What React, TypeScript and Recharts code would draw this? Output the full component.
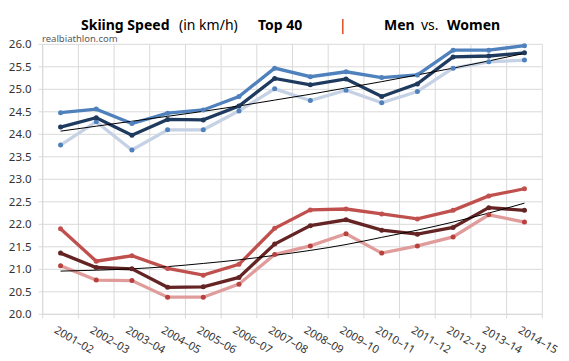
import React from 'react';
import { LineChart, Line, XAxis, YAxis, CartesianGrid, ReferenceLine } from 'recharts';

const seasons = ['2001–02', '2002–03', '2003–04', '2004–05', '2005–06', '2006–07', '2007–08', '2008–09', '2009–10', '2010–11', '2011–12', '2012–13', '2013–14', '2014–15'];

const menTop = [24.48, 24.56, 24.24, 24.47, 24.54, 24.84, 25.47, 25.28, 25.39, 25.26, 25.32, 25.87, 25.87, 25.97];
const menAvg = [24.16, 24.37, 23.98, 24.33, 24.32, 24.63, 25.24, 25.10, 25.23, 24.84, 25.12, 25.72, 25.74, 25.81];
const menLow = [23.76, 24.28, 23.65, 24.10, 24.10, 24.52, 25.01, 24.75, 24.98, 24.70, 24.95, 25.47, 25.61, 25.65];
const menTrend = [24.07, 24.18, 24.29, 24.40, 24.51, 24.63, 24.76, 24.89, 25.03, 25.17, 25.32, 25.47, 25.63, 25.80];

const womenTop = [21.90, 21.18, 21.30, 21.02, 20.87, 21.11, 21.91, 22.32, 22.34, 22.23, 22.12, 22.31, 22.63, 22.79];
const womenAvg = [21.36, 21.04, 21.01, 20.60, 20.61, 20.82, 21.56, 21.97, 22.10, 21.87, 21.78, 21.93, 22.37, 22.31];
const womenLow = [21.08, 20.76, 20.75, 20.38, 20.38, 20.67, 21.33, 21.52, 21.79, 21.36, 21.52, 21.72, 22.21, 22.05];
const womenTrend = [20.96, 20.98, 21.01, 21.06, 21.13, 21.21, 21.31, 21.42, 21.55, 21.71, 21.87, 22.05, 22.25, 22.47];

const yTicks = [20, 20.5, 21, 21.5, 22, 22.5, 23, 23.5, 24, 24.5, 25, 25.5, 26];

const data = seasons.map((s, i) => ({
  idx: i,
  season: s,
  menTop: menTop[i],
  menAvg: menAvg[i],
  menLow: menLow[i],
  menTrend: menTrend[i],
  womenTop: womenTop[i],
  womenAvg: womenAvg[i],
  womenLow: womenLow[i],
  womenTrend: womenTrend[i],
}));

const boundaries = [-0.5, ...seasons.map((_, i) => i + 0.5)];
const xTicks = [...boundaries, ...seasons.map((_, i) => i)].sort((a, b) => a - b);

const GRID = '#D9D9D9';
const FONT = '"Noto Sans", sans-serif';

const SeasonTick = (props: any) => {
  const { x, y, payload } = props;
  const v = payload.value;
  if (Number.isInteger(v)) {
    return (
      <text
        transform={`translate(${x - 7},${y + 18}) rotate(30)`}
        textAnchor="start"
        fontSize={11}
        fontFamily={FONT}
        fill="#333"
      >
        {seasons[v]}
      </text>
    );
  }
  return <line x1={x} x2={x} y1={y} y2={y + 4} stroke={GRID} strokeWidth={1} />;
};

const series = [
  { key: 'menLow', color: '#C5D1E5', dot: '#4F81BD' },
  { key: 'menTop', color: '#4F81BD', dot: '#4F81BD' },
  { key: 'menAvg', color: '#1F3A5F', dot: '#1F3A5F' },
  { key: 'womenLow', color: '#E09C9B', dot: '#B8403D' },
  { key: 'womenTop', color: '#C0504D', dot: '#C0504D' },
  { key: 'womenAvg', color: '#652424', dot: '#652424' },
];

export default function App() {
  return (
    <div style={{ position: 'absolute', left: 0, top: 0, width: 569, height: 361, background: '#fff' }}>
      <LineChart
        width={569}
        height={361}
        data={data}
        margin={{ top: 44.3, right: 26.7, left: 0, bottom: 6.7 }}
      >
        <CartesianGrid horizontal vertical={false} stroke={GRID} strokeWidth={1} />
        {boundaries.map((b) => (
          <ReferenceLine key={b} x={b} stroke={GRID} strokeWidth={1} ifOverflow="visible" />
        ))}
        <XAxis
          dataKey="idx"
          type="number"
          domain={[-0.5, 13.5]}
          ticks={xTicks}
          interval={0}
          allowDecimals
          tick={<SeasonTick />}
          tickLine={false}
          tickSize={0}
          tickMargin={0}
          axisLine={{ stroke: GRID }}
          height={40}
        />
        <YAxis
          type="number"
          domain={[20, 26]}
          ticks={yTicks}
          interval={0}
          tickFormatter={(v: number) => v.toFixed(1)}
          tick={{ fill: '#333', fontSize: 11.5, fontFamily: FONT }}
          tickLine={{ stroke: GRID }}
          tickSize={4}
          tickMargin={7}
          axisLine={{ stroke: GRID }}
          width={42.7}
        />
        {series.map((s) => (
          <Line
            key={s.key}
            dataKey={s.key}
            type="linear"
            stroke={s.color}
            strokeWidth={3.3}
            dot={{ r: 2.5, fill: s.dot, stroke: s.dot, strokeWidth: 0 }}
            activeDot={false}
            isAnimationActive={false}
          />
        ))}
        <Line dataKey="menTrend" type="monotone" stroke="#000" strokeWidth={1} dot={false} activeDot={false} isAnimationActive={false} />
        <Line dataKey="womenTrend" type="monotone" stroke="#000" strokeWidth={1} dot={false} activeDot={false} isAnimationActive={false} />
      </LineChart>
      <svg width={569} height={361} style={{ position: 'absolute', left: 0, top: 0, pointerEvents: 'none' }}>
        <g fontFamily={FONT} fontSize={14} fill="#000">
          <text x={81} y={30}  fontWeight="bold">Skiing Speed</text>
          <text x={179} y={30}>(in km/h)</text>
          <text x={258} y={30} fontWeight="bold">Top 40</text>
          <text x={339} y={30} fill="#B00000">|</text>
          <text x={384} y={30} fontWeight="bold">Men</text>
          <text x={421} y={30}>vs.</text>
          <text x={447} y={30} fontWeight="bold">Women</text>
        </g>
        <text x={42} y={42} fontFamily={FONT} fontSize={9.5} fill="#595959">realbiathlon.com</text>
      </svg>
    </div>
  );
}
